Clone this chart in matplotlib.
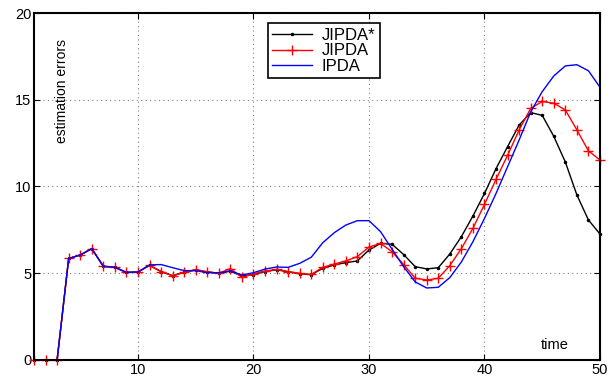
# estimation errors of the three trackers over time
import matplotlib.pyplot as plt

plt.rcParams['font.family'] = ['Liberation Sans', 'DejaVu Sans']

time = list(range(1, 51))

jipda = [0, 0, 0, 5.85, 6.05, 6.42, 5.4, 5.34, 5.05, 5.07,
         5.45, 5.1, 4.86, 5.05, 5.2, 5.08, 5.0, 5.27, 4.76, 4.96,
         5.13, 5.22, 5.1, 4.99, 4.93, 5.34, 5.53, 5.71, 5.96, 6.51,
         6.72, 6.24, 5.5, 4.71, 4.61, 4.71, 5.44, 6.42, 7.59, 8.97,
         10.41, 11.8, 13.26, 14.5, 14.9, 14.8, 14.41, 13.26, 12.05, 11.53]

jipda_star = [0, 0, 0, 5.85, 6.05, 6.42, 5.4, 5.34, 5.05, 5.07,
              5.45, 5.1, 4.86, 5.05, 5.2, 5.08, 5.0, 5.12, 4.84, 4.92,
              5.1, 5.2, 5.08, 4.97, 4.92, 5.28, 5.48, 5.61, 5.71, 6.34,
              6.72, 6.67, 6.08, 5.38, 5.25, 5.32, 6.11, 7.11, 8.3, 9.6,
              11.03, 12.3, 13.54, 14.26, 14.1, 12.89, 11.41, 9.51, 8.07, 7.26]

ipda = [0, 0, 0, 5.85, 6.05, 6.42, 5.4, 5.34, 5.05, 5.07,
        5.48, 5.5, 5.32, 5.15, 5.15, 5.03, 5.03, 5.13, 4.9, 5.03,
        5.24, 5.36, 5.34, 5.57, 5.92, 6.76, 7.34, 7.78, 8.03, 8.03,
        7.4, 6.38, 5.38, 4.5, 4.15, 4.19, 4.75, 5.65, 6.82, 8.16,
        9.6, 11.14, 12.68, 14.3, 15.47, 16.37, 16.95, 17.02, 16.67, 15.72]

fig = plt.figure(figsize=(6.15, 3.76), dpi=100)
ax = fig.add_axes([0.0553, 0.0426, 0.9203, 0.9228])

ax.plot(time, jipda_star, color="black", marker=".", markersize=3, linewidth=1, label="JIPDA*", clip_on=False)
ax.plot(time, jipda, color="red", marker="+", markersize=7, markeredgewidth=1, linewidth=1, label="JIPDA", clip_on=False)
ax.plot(time, ipda, color="blue", linewidth=1, label="IPDA", clip_on=False)

ax.set_xlim(1, 50)
ax.set_ylim(0, 20)
ax.set_xticks([10, 20, 30, 40, 50])
ax.set_yticks([0, 5, 10, 15, 20])
ax.grid(True, linestyle=(0, (1, 3)), color="gray", linewidth=0.8)
ax.tick_params(direction="in", top=True, right=True, labelsize=10.5, length=4, pad=2)
for s in ax.spines.values():
    s.set_linewidth(1.5)

ax.text(3.4, 15.5, "estimation errors", rotation=90, ha="center", va="center", fontsize=10)
ax.text(46.1, 0.85, "time", ha="center", va="center", fontsize=10.5)

leg = ax.legend(loc="upper left", bbox_to_anchor=(0.413, 0.97), borderaxespad=0,
                fancybox=False, framealpha=1, edgecolor="black", fontsize=12,
                handlelength=2.4, labelspacing=0.05, borderpad=0.25, handletextpad=0.6)
leg.get_frame().set_linewidth(1.2)

fig.savefig("out.png", dpi=100)
